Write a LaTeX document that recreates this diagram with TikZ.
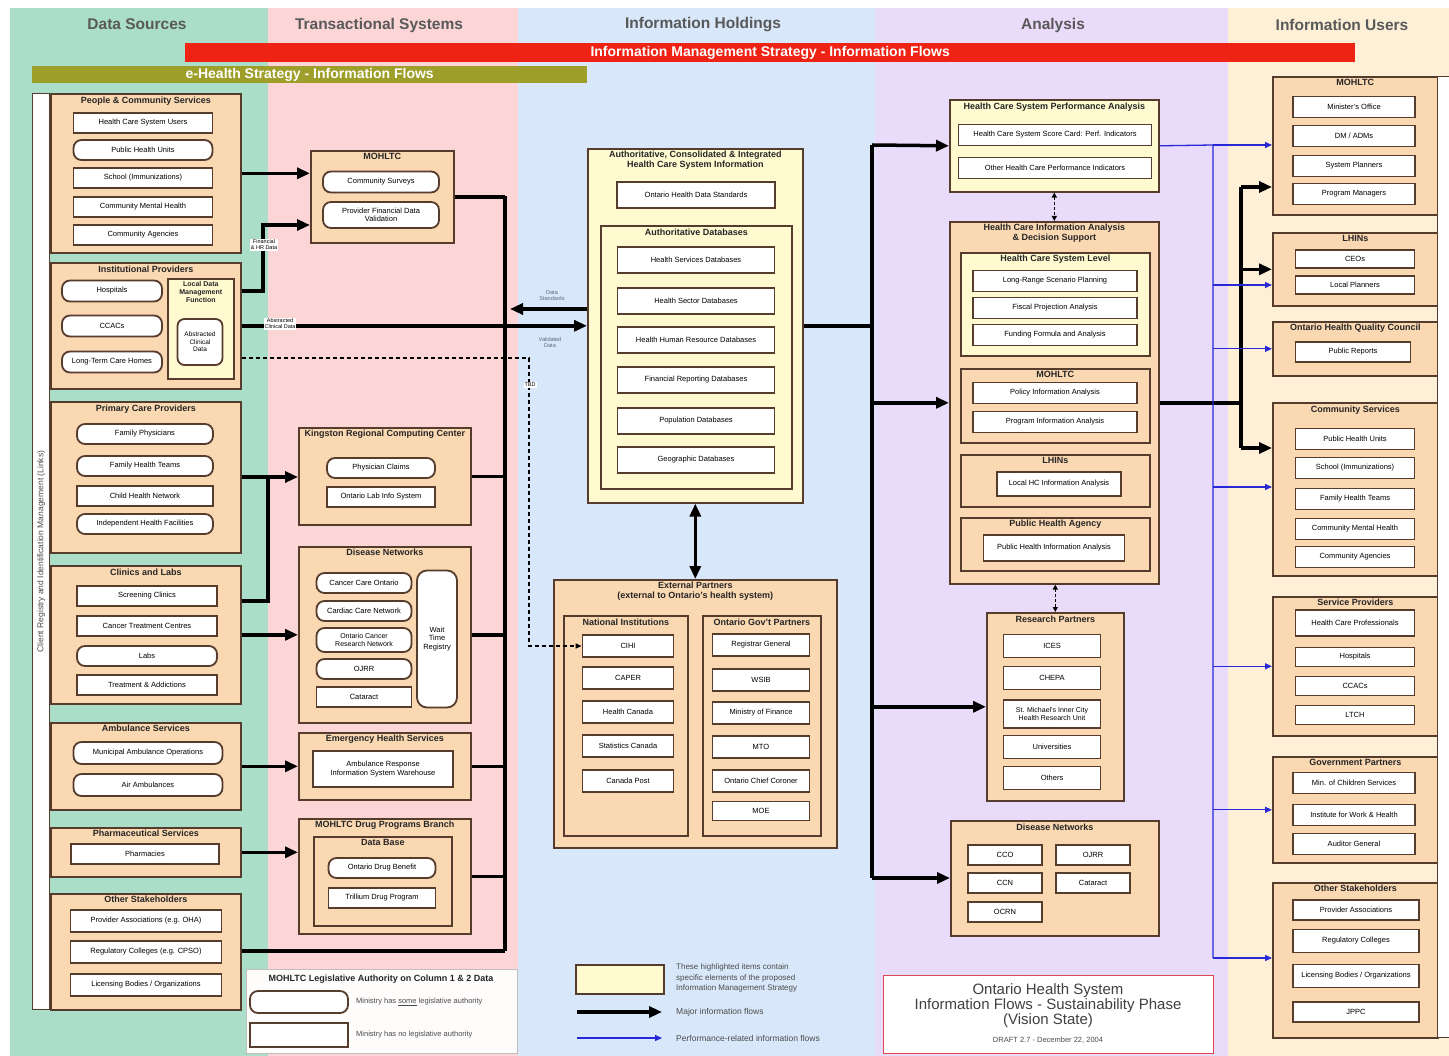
\documentclass[tikz,border=0pt]{standalone}
\usepackage{fontspec}
\setmainfont{Liberation Sans}
\usepackage{tikz}
\usetikzlibrary{shapes.geometric,arrows,arrows.meta,positioning}

\definecolor{dsgreen}{RGB}{170,222,200}
\definecolor{tspink}{RGB}{252,214,214}
\definecolor{ihblue}{RGB}{216,231,249}
\definecolor{anlilac}{RGB}{233,219,250}
\definecolor{iucream}{RGB}{253,240,215}
\definecolor{peach}{RGB}{250,216,178}
\definecolor{paleyel}{RGB}{255,250,208}
\definecolor{boxline}{RGB}{85,60,45}
\definecolor{barred}{RGB}{238,35,20}
\definecolor{barolive}{RGB}{158,158,42}
\definecolor{perfblue}{RGB}{40,40,215}
\definecolor{lblgrey}{RGB}{90,100,130}

\tikzstyle{head} = [font=\fontsize{15.5}{17}\selectfont\bfseries, text=black!65]
\tikzstyle{bar} = [anchor=north west, inner sep=0pt, text=white, font=\fontsize{14}{15}\selectfont\bfseries]
\tikzstyle{group} = [rectangle, anchor=north west, inner sep=0pt, draw=boxline, line width=1.6pt, fill=peach]
\tikzstyle{hilite} = [group, fill=paleyel]
\tikzstyle{grptitle} = [inner sep=0pt, align=center, font=\fontsize{9}{10}\selectfont\bfseries, text=black!85]
\tikzstyle{item} = [rectangle, draw=boxline, line width=1.8pt, fill=white, minimum height=20pt, inner sep=1pt, align=center, font=\fontsize{7.5}{8.5}\selectfont]
\tikzstyle{ritem} = [item, rounded corners=8pt]
\tikzstyle{flowlbl} = [fill=white, inner sep=1pt, align=center, font=\fontsize{5.5}{6}\selectfont]
\tikzstyle{note} = [anchor=west, inner sep=0pt, align=left, font=\fontsize{8.5}{10.5}\selectfont, text=black!70]
\tikzstyle{arrow} = [line width=3.5pt, ->, >={Triangle[length=13pt,width=11pt]}]
\tikzstyle{link} = [line width=3.5pt]
\tikzstyle{dblarrow} = [line width=3.5pt, <->, >={Triangle[length=13pt,width=11pt]}]
\tikzstyle{perf} = [line width=1.3pt, draw=perfblue, ->, >={Triangle[length=7pt,width=6pt]}]
\tikzstyle{perfline} = [line width=1.3pt, draw=perfblue]
\tikzstyle{dashflow} = [line width=1.3pt, dash pattern=on 4pt off 3pt, ->, >={Triangle[length=6pt,width=5pt]}]
\tikzstyle{dashlink} = [line width=1.5pt, dash pattern=on 3pt off 2pt, <->, >={Triangle[length=5pt,width=5pt]}]

\begin{document}
\begin{tikzpicture}[x=1pt, y=-1pt]
\useasboundingbox (0,0) rectangle (1449,1056);
% column backgrounds
\fill[dsgreen] (10,8) rectangle (268,1056);
\fill[tspink] (268,8) rectangle (518,1056);
\fill[ihblue] (518,8) rectangle (875,1056);
\fill[anlilac] (875,8) rectangle (1228,1056);
\fill[iucream] (1228,8) rectangle (1449,1056);

\node (hds) [head] at (137,24) {Data Sources};
\node (hts) [head] at (379,25) {Transactional Systems};
\node (hih) [head] at (703,25) {Information Holdings};
\node (han) [head] at (1053,25) {Analysis};
\node (hiu) [head] at (1342,25) {Information Users};

\node (ims) [bar, fill=barred, minimum width=1170pt, minimum height=19pt] at (185,43) {Information Management Strategy - Information Flows};
\node (ehs) [bar, fill=barolive, minimum width=555pt, minimum height=17pt] at (32,66) {e-Health Strategy - Information Flows};

% data sources
\node (creg) [group, fill=white, line width=1.2pt, minimum width=17pt, minimum height=916pt] at (32,93) {};
\node [rotate=90, font=\fontsize{8.5}{9}\selectfont, text=black!70] at (creg.center) {Client Registry and Identification Management (Links)};

\node (pcs) [group, minimum width=190pt, minimum height=159pt] at (50,93) {};
\node [grptitle, below=4pt of pcs.north] {People \& Community Services};
\node (hcsu) [item, minimum width=139pt] at (143,123) {Health Care System Users};
\node (phu) [ritem, minimum width=139pt] at (143,150) {Public Health Units};
\node (schl) [item, minimum width=139pt] at (143,178) {School (Immunizations)};
\node (cmh) [item, minimum width=139pt] at (143,207) {Community Mental Health};
\node (cag) [item, minimum width=139pt] at (143,235) {Community Agencies};

\node (inst) [group, minimum width=190pt, minimum height=126pt] at (50,262) {};
\node [grptitle, below=4pt of inst.north] {Institutional Providers};
\node (hosp) [ritem, minimum width=100pt, minimum height=21pt] at (112,291) {Hospitals};
\node (ccac) [ritem, minimum width=100pt, minimum height=21pt] at (112,326) {CCACs};
\node (lthc) [ritem, minimum width=100pt, minimum height=21pt] at (112,362) {Long-Term Care Homes};
\node (ldmf) [hilite, minimum width=66pt, minimum height=100pt] at (167,278) {};
\node [grptitle, font=\fontsize{7}{8}\selectfont\bfseries, below=3pt of ldmf.north] {Local Data\\Management\\Function};
\node (acd) [ritem, rounded corners=7pt, minimum width=45pt, minimum height=46pt, font=\fontsize{6.5}{7.5}\selectfont] at (200,342) {Abstracted\\Clinical\\Data};

\node (pcp) [group, minimum width=190pt, minimum height=151pt] at (50,401) {};
\node [grptitle, below=4pt of pcp.north] {Primary Care Providers};
\node (fphy) [ritem, minimum width=136pt] at (145,434) {Family Physicians};
\node (fht) [ritem, minimum width=136pt] at (145,466) {Family Health Teams};
\node (chn) [item, minimum width=136pt] at (145,496) {Child Health Network};
\node (ihf) [ritem, minimum width=136pt] at (145,524) {Independent Health Facilities};

\node (clin) [group, minimum width=190pt, minimum height=138pt] at (50,565) {};
\node [grptitle, below=4pt of clin.north] {Clinics and Labs};
\node (scrc) [item, minimum width=140pt] at (147,596) {Screening Clinics};
\node (ctc) [item, minimum width=140pt] at (147,626) {Cancer Treatment Centres};
\node (labs) [ritem, minimum width=140pt] at (147,656) {Labs};
\node (tada) [item, minimum width=140pt] at (147,685) {Treatment \& Addictions};

\node (amb) [group, minimum width=190pt, minimum height=87pt] at (50,722) {};
\node [grptitle, below=3pt of amb.north] {Ambulance Services};
\node (mao) [ritem, minimum width=149pt, minimum height=22pt] at (148,753) {Municipal Ambulance Operations};
\node (aira) [ritem, minimum width=149pt, minimum height=22pt] at (148,785) {Air Ambulances};

\node (phs) [group, minimum width=190pt, minimum height=49pt] at (50,827) {};
\node [grptitle, below=3pt of phs.north] {Pharmaceutical Services};
\node (phar) [item, minimum width=148pt] at (145,854) {Pharmacies};

\node (oth) [group, minimum width=190pt, minimum height=116pt] at (50,893) {};
\node [grptitle, below=3pt of oth.north] {Other Stakeholders};
\node (pasc) [item, minimum width=151pt, minimum height=22pt] at (146,921) {Provider Associations (e.g. OHA)};
\node (regc) [item, minimum width=151pt, minimum height=22pt] at (146,952) {Regulatory Colleges (e.g. CPSO)};
\node (lbod) [item, minimum width=151pt, minimum height=22pt] at (146,985) {Licensing Bodies / Organizations};

% transactional systems
\node (tmoh) [group, minimum width=143pt, minimum height=92pt] at (310,150) {};
\node [grptitle, below=3pt of tmoh.north] {MOHLTC};
\node (csur) [ritem, minimum width=116pt, minimum height=21pt] at (381,182) {Community Surveys};
\node (pfdv) [ritem, minimum width=116pt, minimum height=26pt] at (381,215) {Provider Financial Data\\Validation};

\node (krcc) [group, minimum width=172pt, minimum height=97pt] at (298,427) {};
\node [grptitle, below=3pt of krcc.north] {Kingston Regional Computing Center};
\node (phcl) [ritem, minimum width=108pt] at (381,468) {Physician Claims};
\node (olis) [item, minimum width=108pt] at (381,497) {Ontario Lab Info System};

\node (tdn) [group, minimum width=172pt, minimum height=176pt] at (298,546) {};
\node [grptitle, below=3pt of tdn.north] {Disease Networks};
\node (tcco) [ritem, minimum width=95pt] at (364,583) {Cancer Care Ontario};
\node (tccn) [ritem, minimum width=95pt] at (364,611) {Cardiac Care Network};
\node (tocrn) [ritem, minimum width=95pt, minimum height=24pt, font=\fontsize{7}{7.5}\selectfont] at (364,640) {Ontario Cancer\\Research Network};
\node (tojrr) [ritem, minimum width=95pt] at (364,669) {OJRR};
\node (tcat) [item, minimum width=95pt] at (364,697) {Cataract};
\node (wtr) [ritem, rounded corners=10pt, minimum width=40pt, minimum height=137pt] at (437,639) {Wait\\Time\\Registry};

\node (ehs2) [group, minimum width=172pt, minimum height=67pt] at (298,732) {};
\node [grptitle, below=3pt of ehs2.north] {Emergency Health Services};
\node (aris) [item, minimum width=140pt, minimum height=36pt] at (383,769) {Ambulance Response\\Information System Warehouse};

\node (dpb) [group, minimum width=172pt, minimum height=115pt] at (298,818) {};
\node [grptitle, below=3pt of dpb.north] {MOHLTC Drug Programs Branch};
\node (dbase) [group, minimum width=138pt, minimum height=89pt] at (313,836) {};
\node [grptitle, below=3pt of dbase.north] {Data Base};
\node (odb) [ritem, minimum width=107pt] at (382,868) {Ontario Drug Benefit};
\node (tdp) [item, minimum width=107pt] at (382,898) {Trillium Drug Program};

% legislative authority legend
\node (leg) [rectangle, anchor=north west, draw=black!25, line width=0.8pt, fill=white!92!tspink, minimum width=271pt, minimum height=84pt] at (246,969) {};
\node [grptitle] at (381,979) {MOHLTC Legislative Authority on Column 1 \& 2 Data};
\node (legr) [ritem, minimum width=98pt, minimum height=22pt] at (299,1002) {};
\node (legs) [item, minimum width=98pt, minimum height=24pt] at (299,1035) {};
\node [note, font=\fontsize{7.5}{9}\selectfont] at (356,1002) {Ministry has \underline{some} legislative authority};
\node [note, font=\fontsize{7.5}{9}\selectfont] at (356,1035) {Ministry has no legislative authority};

% information holdings
\node (achsi) [hilite, minimum width=215pt, minimum height=354pt] at (587,148) {};
\node [grptitle, below=3pt of achsi.north] {Authoritative, Consolidated \& Integrated\\Health Care System Information};
\node (ohds) [item, minimum width=158pt, minimum height=26pt] at (696,195) {Ontario Health Data Standards};
\node (adb) [hilite, minimum width=191pt, minimum height=263pt] at (600,225) {};
\node [grptitle, below=4pt of adb.north] {Authoritative Databases};
\node (hsd) [item, minimum width=157pt, minimum height=26pt] at (696,260) {Health Services Databases};
\node (hsecd) [item, minimum width=157pt, minimum height=26pt] at (696,301) {Health Sector Databases};
\node (hhrd) [item, minimum width=157pt, minimum height=26pt] at (696,340) {Health Human Resource Databases};
\node (frd) [item, minimum width=157pt, minimum height=26pt] at (696,380) {Financial Reporting Databases};
\node (popd) [item, minimum width=157pt, minimum height=26pt] at (696,421) {Population Databases};
\node (geod) [item, minimum width=157pt, minimum height=26pt] at (696,460) {Geographic Databases};

\node (extp) [group, minimum width=283pt, minimum height=268pt] at (553,579) {};
\node [grptitle, below=3pt of extp.north] {External Partners\\(external to Ontario's health system)};
\node (nati) [group, minimum width=124pt, minimum height=220pt] at (563,615) {};
\node [grptitle, below=4pt of nati.north] {National Institutions};
\node (cihi) [item, minimum width=91pt, minimum height=22pt] at (628,646) {CIHI};
\node (caper) [item, minimum width=91pt, minimum height=22pt] at (628,678) {CAPER};
\node (hcan) [item, minimum width=91pt, minimum height=22pt] at (628,712) {Health Canada};
\node (stcan) [item, minimum width=91pt, minimum height=22pt] at (628,746) {Statistics Canada};
\node (cpost) [item, minimum width=91pt, minimum height=22pt] at (628,781) {Canada Post};
\node (ontp) [group, minimum width=118pt, minimum height=220pt] at (702,615) {};
\node [grptitle, below=4pt of ontp.north] {Ontario Gov't Partners};
\node (rgen) [item, minimum width=97pt, minimum height=22pt] at (761,645) {Registrar General};
\node (wsib) [item, minimum width=97pt, minimum height=22pt] at (761,680) {WSIB};
\node (mfin) [item, minimum width=97pt, minimum height=22pt] at (761,713) {Ministry of Finance};
\node (mto) [item, minimum width=97pt, minimum height=22pt] at (761,747) {MTO};
\node (occ) [item, minimum width=97pt, minimum height=22pt] at (761,781) {Ontario Chief Coroner};
\node (moe) [item, minimum width=97pt, minimum height=19pt] at (761,811) {MOE};

% analysis
\node (hcspa) [hilite, minimum width=209pt, minimum height=92pt] at (949,99) {};
\node [grptitle, below=4pt of hcspa.north] {Health Care System Performance Analysis};
\node (scard) [item, minimum width=193pt, minimum height=21pt] at (1055,135) {Health Care System Score Card: Perf. Indicators};
\node (ohcpi) [item, minimum width=193pt, minimum height=21pt] at (1055,168) {Other Health Care Performance Indicators};

\node (hcia) [group, minimum width=209pt, minimum height=362pt] at (949,221) {};
\node [grptitle, below=3pt of hcia.north] {Health Care Information Analysis\\\& Decision Support};
\node (hcsl) [hilite, minimum width=189pt, minimum height=103pt] at (960,252) {};
\node [grptitle, below=3pt of hcsl.north] {Health Care System Level};
\node (lrsp) [item, minimum width=164pt, minimum height=21pt] at (1055,281) {Long-Range Scenario Planning};
\node (fpa) [item, minimum width=164pt, minimum height=21pt] at (1055,308) {Fiscal Projection Analysis};
\node (ffa) [item, minimum width=164pt, minimum height=21pt] at (1055,335) {Funding Formula and Analysis};
\node (amoh) [group, minimum width=189pt, minimum height=74pt] at (960,368) {};
\node [grptitle, below=3pt of amoh.north] {MOHLTC};
\node (pola) [item, minimum width=164pt, minimum height=21pt] at (1055,393) {Policy Information Analysis};
\node (proa) [item, minimum width=164pt, minimum height=21pt] at (1055,422) {Program Information Analysis};
\node (alhin) [group, minimum width=189pt, minimum height=52pt] at (960,454) {};
\node [grptitle, below=3pt of alhin.north] {LHINs};
\node (lhca) [item, minimum width=124pt, minimum height=24pt] at (1059,484) {Local HC Information Analysis};
\node (apha) [group, minimum width=189pt, minimum height=53pt] at (960,517) {};
\node [grptitle, below=3pt of apha.north] {Public Health Agency};
\node (phia) [item, minimum width=141pt, minimum height=26pt] at (1054,548) {Public Health Information Analysis};

\node (rp) [group, minimum width=137pt, minimum height=188pt] at (986,612) {};
\node [grptitle, below=4pt of rp.north] {Research Partners};
\node (ices) [item, minimum width=97pt, minimum height=23pt] at (1052,646) {ICES};
\node (chepa) [item, minimum width=97pt, minimum height=23pt] at (1052,678) {CHEPA};
\node (smich) [item, minimum width=97pt, minimum height=28pt, font=\fontsize{7}{7.5}\selectfont] at (1052,714) {St. Michael's Inner City\\Health Research Unit};
\node (univ) [item, minimum width=97pt, minimum height=23pt] at (1052,747) {Universities};
\node (othr) [item, minimum width=97pt, minimum height=23pt] at (1052,778) {Others};

\node (adn) [group, minimum width=208pt, minimum height=115pt] at (950,820) {};
\node [grptitle, below=4pt of adn.north] {Disease Networks};
\node (acco) [item, minimum width=74pt] at (1005,855) {CCO};
\node (aojrr) [item, minimum width=74pt] at (1093,855) {OJRR};
\node (accn) [item, minimum width=74pt] at (1005,883) {CCN};
\node (acat) [item, minimum width=74pt] at (1093,883) {Cataract};
\node (aocrn) [item, minimum width=74pt] at (1005,912) {OCRN};

% title block
\node (tbox) [rectangle, anchor=north west, draw={rgb,255:red,220;green,70;blue,80}, line width=1.2pt, fill=white, minimum width=330pt, minimum height=78pt] at (883,975) {};
\node [align=center, font=\fontsize{15}{15}\selectfont, text=black!75] at (1048,1006) {Ontario Health System\\Information Flows - Sustainability Phase\\(Vision State)};
\node [font=\fontsize{7.5}{8}\selectfont, text=black!70] at (1048,1040) {DRAFT 2.7 - December 22, 2004};

% legend
\node (lgyel) [hilite, line width=1.8pt, minimum width=88pt, minimum height=29pt] at (575,964) {};
\node [note, font=\fontsize{8}{10.5}\selectfont] at (676,978) {These highlighted items contain\\specific elements of the proposed\\Information Management Strategy};
\coordinate (lga) at (577,1012);
\coordinate (lgb) at (662,1012);
\draw [arrow] (lga) -- (lgb);
\node [note] at (676,1012) {Major information flows};
\coordinate (lgc) at (577,1038);
\coordinate (lgd) at (662,1038);
\draw [perf] (lgc) -- (lgd);
\node [note] at (676,1038) {Performance-related information flows};

% information users
\node (umoh) [group, minimum width=165pt, minimum height=138pt] at (1272,76) {};
\node [grptitle, below=3pt of umoh.north] {MOHLTC};
\node (mino) [item, minimum width=122pt, minimum height=21pt] at (1354,107) {Minister's Office};
\node (dmadm) [item, minimum width=122pt, minimum height=21pt] at (1354,136) {DM / ADMs};
\node (splan) [item, minimum width=122pt, minimum height=21pt] at (1354,166) {System Planners};
\node (pman) [item, minimum width=122pt, minimum height=21pt] at (1354,194) {Program Managers};

\node (ulhin) [group, minimum width=165pt, minimum height=73pt] at (1272,232) {};
\node [grptitle, below=3pt of ulhin.north] {LHINs};
\node (ceos) [item, minimum width=119pt, minimum height=18pt] at (1355,259) {CEOs};
\node (lplan) [item, minimum width=119pt, minimum height=18pt] at (1355,285) {Local Planners};

\node (uohqc) [group, minimum width=165pt, minimum height=54pt] at (1272,321) {};
\node [grptitle, below=3pt of uohqc.north] {Ontario Health Quality Council};
\node (prep) [item, minimum width=115pt] at (1353,352) {Public Reports};

\node (ucs) [group, minimum width=165pt, minimum height=173pt] at (1272,402) {};
\node [grptitle, below=4pt of ucs.north] {Community Services};
\node (uphu) [item, minimum width=119pt, minimum height=21pt] at (1355,439) {Public Health Units};
\node (uschl) [item, minimum width=119pt, minimum height=21pt] at (1355,468) {School (Immunizations)};
\node (ufht) [item, minimum width=119pt, minimum height=21pt] at (1355,499) {Family Health Teams};
\node (ucmh) [item, minimum width=119pt, minimum height=21pt] at (1355,529) {Community Mental Health};
\node (ucag) [item, minimum width=119pt, minimum height=21pt] at (1355,557) {Community Agencies};

\node (usp) [group, minimum width=165pt, minimum height=139pt] at (1272,596) {};
\node [grptitle, below=3pt of usp.north] {Service Providers};
\node (hcpr) [item, minimum width=119pt, minimum height=26pt] at (1355,623) {Health Care Professionals};
\node (uhosp) [item, minimum width=119pt, minimum height=19pt] at (1355,657) {Hospitals};
\node (uccac) [item, minimum width=119pt, minimum height=19pt] at (1355,686) {CCACs};
\node (ltch) [item, minimum width=119pt, minimum height=19pt] at (1355,715) {LTCH};

\node (ugp) [group, minimum width=165pt, minimum height=106pt] at (1272,756) {};
\node [grptitle, below=3pt of ugp.north] {Government Partners};
\node (mcs) [item, minimum width=122pt, minimum height=21pt] at (1354,783) {Min. of Children Services};
\node (iwh) [item, minimum width=122pt, minimum height=21pt] at (1354,815) {Institute for Work \& Health};
\node (audg) [item, minimum width=122pt, minimum height=21pt] at (1354,844) {Auditor General};

\node (uos) [group, minimum width=165pt, minimum height=155pt] at (1272,882) {};
\node [grptitle, below=3pt of uos.north] {Other Stakeholders};
\node (upa) [item, minimum width=126pt] at (1356,910) {Provider Associations};
\node (urc) [item, minimum width=126pt, minimum height=23pt] at (1356,941) {Regulatory Colleges};
\node (ulb) [item, minimum width=126pt, minimum height=23pt] at (1356,976) {Licensing Bodies / Organizations};
\node (jppc) [item, minimum width=126pt] at (1356,1012) {JPPC};
\node (ubar) [group, fill=white, line width=1.2pt, minimum width=12pt, minimum height=961pt] at (1437,76) {};

% data sources -> transactional systems
\coordinate (fin) at (263,225);
\coordinate (kj) at (268,477);
\coordinate (cj) at (268,601);
\coordinate (bustop) at (505,196);
\coordinate (busbot) at (505,951);
\coordinate (tbdc) at (529,358);
\coordinate (dsend) at (510,309);
\draw [arrow] (pcs.east) -- (pcs.east -| tmoh.west);
\draw [arrow] (inst.east |- hosp) -| (fin) -- (fin -| tmoh.west);
\draw [arrow] (pcp.east |- kj) -- (kj -| krcc.west);
\draw [link] (clin.east |- cj) -- (cj) -- (kj);
\draw [arrow] (clin.east |- tdn.west) -- (tdn.west);
\draw [arrow] (amb.east) -- (amb.east -| ehs2.west);
\draw [arrow] (phs.east) -- (phs.east -| dpb.west);
\draw [link] (oth.east |- busbot) -- (busbot);
\draw [link] (bustop) -- (busbot);
\draw [link] (tmoh.east) -- (tmoh.east -| bustop);
\draw [link] (krcc.east) -- (krcc.east -| bustop);
\draw [link] (tdn.east) -- (tdn.east -| bustop);
\draw [link] (ehs2.east) -- (ehs2.east -| bustop);
\draw [link] (dpb.east) -- (dpb.east -| bustop);
\draw [arrow] (inst.east) -- (inst.east -| achsi.west);
\draw [arrow] (dsend -| achsi.west) -- (dsend);
\draw [dashflow] (tbdc -| inst.east) -- (tbdc) |- (cihi.west);
\node (finlbl) [flowlbl] at (264,245) {Financial\\\& HR Data};
\node (acdlbl) [flowlbl] at (280,324) {Abstracted\\Clinical Data};
\node (tbdlbl) [flowlbl] at (530,385) {TBD};
\node (dslbl) [flowlbl, fill=none, text=lblgrey] at (552,296) {Data\\Standards};
\node (vdlbl) [flowlbl, fill=none, text=lblgrey] at (550,343) {Validated\\Data};

% information holdings -> analysis
\coordinate (abtop) at (872,145);
\coordinate (abbot) at (872,878);
\draw [dblarrow] (achsi.south) -- (achsi.south |- extp.north);
\draw [link] (achsi.east) -- (achsi.east -| abtop);
\draw [link] (abtop) -- (abbot);
\draw [arrow] (abtop) -- (hcspa.west);
\draw [arrow] (hcia.west -| abtop) -- (hcia.west);
\draw [arrow] (rp.west -| abtop) -- (rp.west);
\draw [arrow] (abbot) -- (abbot -| adn.west);
\draw [dashlink] (hcspa.south) -- (hcia.north);
\draw [dashlink] (rp.north |- hcia.south) -- (rp.north);

% analysis -> information users
\coordinate (ubtop) at (1241,187);
\coordinate (ubbot) at (1241,448);
\draw [link] (hcia.east) -- (hcia.east -| ubtop);
\draw [link] (ubtop) -- (ubbot);
\draw [arrow] (ubtop) -- (ubtop -| umoh.west);
\draw [arrow] (ulhin.west -| ubtop) -- (ulhin.west);
\draw [arrow] (ubbot) -- (ubbot -| ucs.west);

% performance-related flows
\coordinate (pbtop) at (1213,145);
\coordinate (pbbot) at (1213,958);
\coordinate (pbcs) at (1213,487);
\draw [perfline] (hcspa.east) -- (pbtop) -- (pbbot);
\draw [perf] (pbtop) -- (pbtop -| umoh.west);
\draw [perf] (lplan -| pbtop) -- (lplan -| ulhin.west);
\draw [perf] (uohqc.west -| pbtop) -- (uohqc.west);
\draw [perf] (pbcs) -- (pbcs -| ucs.west);
\draw [perf] (usp.west -| pbtop) -- (usp.west);
\draw [perf] (ugp.west -| pbtop) -- (ugp.west);
\draw [perf] (pbbot) -- (pbbot -| uos.west);
\end{tikzpicture}
\end{document}
